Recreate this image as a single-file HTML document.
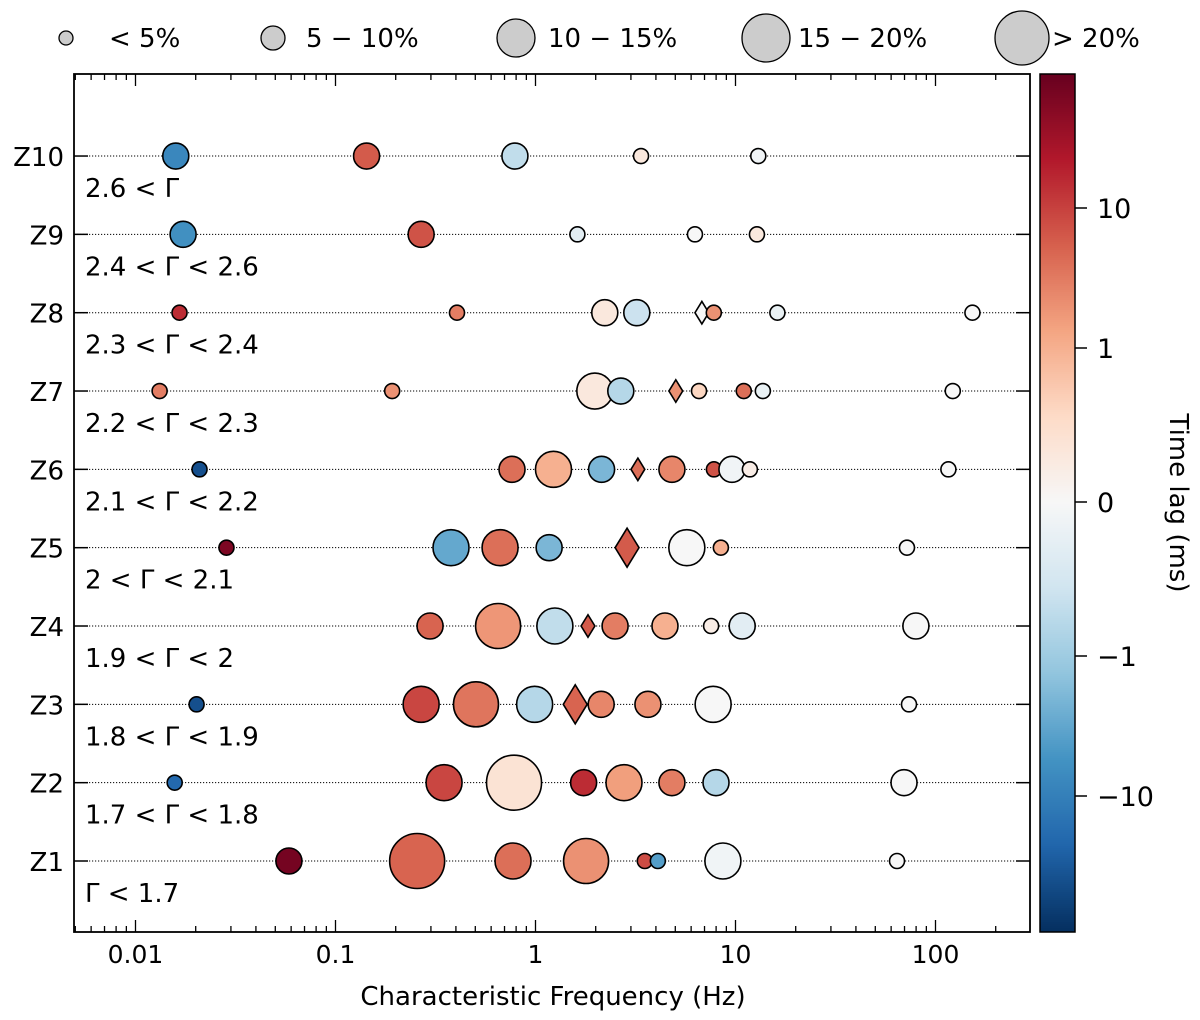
<!DOCTYPE html>
<html><head><meta charset="utf-8"><style>
html,body{margin:0;padding:0;background:#fff}
svg{display:block}
text{font-family:"DejaVu Sans","Liberation Sans",sans-serif;fill:#000}
</style></head><body>
<svg id="chart" width="1200" height="1020" viewBox="0 0 1200 1020" xmlns="http://www.w3.org/2000/svg">
<g id="legend"></g>
<g id="grid"></g>
<g id="marks"></g>
<g id="axes"></g>
<g id="cbar"></g>
</svg>
<script>
// ---- data ----
const rowLabels = ["Z1","Z2","Z3","Z4","Z5","Z6","Z7","Z8","Z9","Z10"];
const gammaLabels = ["Γ < 1.7","1.7 < Γ < 1.8","1.8 < Γ < 1.9","1.9 < Γ < 2","2 < Γ < 2.1","2.1 < Γ < 2.2","2.2 < Γ < 2.3","2.3 < Γ < 2.4","2.4 < Γ < 2.6","2.6 < Γ"];
// per row: frequencies (Hz), lags (ms), size class (0..4), marker ("c" circle, "d" diamond)
const freqs = [
 [0.0585,0.256,0.772,1.79,3.52,4.09,8.65,64.2],
 [0.0157,0.349,0.781,1.74,2.77,4.81,7.99,69.6],
 [0.0202,0.268,0.504,0.99,1.58,2.13,3.65,7.73,73.7],
 [0.297,0.650,1.25,1.83,2.50,4.44,7.55,10.8,79.8],
 [0.0285,0.378,0.665,1.17,2.87,5.71,8.45,72.0],
 [0.0209,0.763,1.23,2.14,3.25,4.81,7.80,9.60,11.8,116],
 [0.0132,0.192,1.98,2.67,5.03,6.57,11.0,13.7,122],
 [0.0166,0.405,2.22,3.21,6.79,7.79,16.2,153],
 [0.0173,0.268,1.62,6.27,12.8],
 [0.0159,0.143,0.789,3.37,13.0]
];
const lags = [
 [70,5,4,2,8,-4,-0.1,0],
 [-20,9,0.4,15,1.5,3,-0.8,0],
 [-40,9,3.5,-0.8,5,2.5,2,0,0],
 [5,1.8,-0.7,6,3,1,0.2,-0.3,0],
 [60,-3,4,-2,6,0,1,0],
 [-40,4,1,-2,4,2.5,7,-0.1,0.2,0],
 [3,2,0.3,-0.8,2,0.6,4,-0.2,0],
 [15,3,0.3,-0.6,0,2,-0.2,0],
 [-6,7,-0.3,0,0.3],
 [-8,6,-0.7,0.3,-0.1]
];
const sizes = [
 [1,4,2,3,0,0,2,0],
 [0,2,4,1,2,1,1,1],
 [0,2,3,2,1,1,1,2,0],
 [1,3,2,0,1,1,0,1,1],
 [0,2,2,1,1,2,0,0],
 [0,1,2,1,0,1,0,1,0,0],
 [0,0,2,1,0,0,0,0,0],
 [0,0,1,1,0,0,0,0],
 [1,1,0,0,0],
 [1,1,1,0,0]
];
const markers = [
 ["c","c","c","c","c","c","c","c"],
 ["c","c","c","c","c","c","c","c"],
 ["c","c","c","c","d","c","c","c","c"],
 ["c","c","c","d","c","c","c","c","c"],
 ["c","c","c","c","d","c","c","c"],
 ["c","c","c","c","d","c","c","c","c","c"],
 ["c","c","c","c","d","c","c","c","c"],
 ["c","c","c","c","d","c","c","c"],
 ["c","c","c","c","c"],
 ["c","c","c","c","c"]
];
const xTicks = [0.01,0.1,1,10,100];
const xTickLabels = ["0.01","0.1","1","10","100"];
const cbTicks = [10,1,0,-1,-10];
const cbTickLabels = ["10","1","0","−1","−10"];
const legendLabels = ["< 5%","5 − 10%","10 − 15%","15 − 20%","> 20%"];

// ---- geometry ----
const PL=74,PR=1030,PT=74,PB=932;
const NS="http://www.w3.org/2000/svg";
const xs = f => 135.5 + (Math.log10(f)+2)*200;
const ys = i => 861 - i*78.33;
const R = [7.5,13,18,22.5,27.5];
const LR = [7,12,19,24,27];
const CB = {x:1040,w:35,top:74,bot:932,zero:502};
function cbPos(v){const a=Math.abs(v);const p=a<=1?a*154:154+Math.log10(a)*140;return Math.sign(v)*p;}
const stops=["#053061","#2166ac","#4393c3","#92c5de","#d1e5f0","#f7f7f7","#fddbc7","#f4a582","#d6604d","#b2182b","#67001f"];
function hex(h){return [1,3,5].map(i=>parseInt(h.substr(i,2),16));}
function cmap(t){t=Math.max(0,Math.min(1,t));const s=t*(stops.length-1);const i=Math.min(Math.floor(s),stops.length-2);const f=s-i;const a=hex(stops[i]),b=hex(stops[i+1]);return "rgb("+a.map((v,k)=>Math.round(v+(b[k]-v)*f)).join(",")+")";}
const HALF = 428;
const color = v => cmap((cbPos(v)/HALF+1)/2);
function el(tag,attrs,parent){const e=document.createElementNS(NS,tag);for(const k in attrs)e.setAttribute(k,attrs[k]);parent.appendChild(e);return e;}

const legend=document.getElementById('legend');
const grid=document.getElementById('grid');
const marks=document.getElementById('marks');
const axes=document.getElementById('axes');
const cbar=document.getElementById('cbar');

// legend
const legCx=[66,273,516,766,1022], legTx=[109,306,548,798,1052];
legendLabels.forEach((l,i)=>{
  const c=el('circle',{cx:legCx[i],cy:38,r:LR[i],fill:'#cccccc',stroke:'#000','stroke-width':1.3},legend);
  
  
  const t=el('text',{x:legTx[i],y:47,'font-size':26},legend);t.textContent=l;
  
  
});

// row guides and labels
rowLabels.forEach((lab,i)=>{
  const y=ys(i);
  const ln=el('line',{x1:PL,x2:PR,y1:y,y2:y,stroke:'#000','stroke-width':1,'stroke-dasharray':'1.2,1.8'},grid);
  
  
  const t=el('text',{x:64,y:y+10,'font-size':26,'text-anchor':'end'},axes);t.textContent=lab;
  
  
  el('line',{x1:PL,x2:PL+14,y1:y,y2:y,stroke:'#000','stroke-width':1.5},axes);
  el('line',{x1:PR-14,x2:PR,y1:y,y2:y,stroke:'#000','stroke-width':1.5},axes);
  const g=el('text',{x:85,y:y+41,'font-size':26},axes);g.textContent=gammaLabels[i];
  
  
});

// points
freqs.forEach((row,i)=>{
  const y=ys(i);
  row.forEach((f,j)=>{
    const x=xs(f), r=R[sizes[i][j]], fill=color(lags[i][j]);
    let m;
    if(markers[i][j]==='d'){
      const h=r*1.5,w=r*0.92;
      m=el('polygon',{points:`${x},${y-h} ${x+w},${y} ${x},${y+h} ${x-w},${y}`,fill:fill,stroke:'#000','stroke-width':1.6},marks);
      
    } else {
      m=el('circle',{cx:x,cy:y,r:r,fill:fill,stroke:'#000','stroke-width':1.6},marks);
      
    }
    
  });
});

// axes frame
const fr=el('rect',{x:PL,y:PT,width:PR-PL,height:PB-PT,fill:'none',stroke:'#000','stroke-width':1.8},axes);


// x ticks
for(let d=-3;d<=2;d++){
  for(let k=1;k<10;k++){
    const f=k*Math.pow(10,d);const x=xs(f);
    if(x<PL+1||x>PR-1)continue;
    const L=k===1?12:6;
    el('line',{x1:x,x2:x,y1:PB,y2:PB-L,stroke:'#000','stroke-width':1.3},axes);
    el('line',{x1:x,x2:x,y1:PT,y2:PT+L,stroke:'#000','stroke-width':1.3},axes);
  }
}
xTicks.forEach((f,i)=>{
  const t=el('text',{x:xs(f),y:963,'font-size':25,'text-anchor':'middle'},axes);t.textContent=xTickLabels[i];
  
  
});
const xt=el('text',{x:553,y:1005,'font-size':26,'text-anchor':'middle'},axes);xt.textContent="Characteristic Frequency (Hz)";



// colorbar
for(let p=CB.top;p<CB.bot;p+=2){
  const pos=CB.zero-(p+1);
  el('rect',{x:CB.x,y:p,width:CB.w,height:2.2,fill:cmap((pos/HALF+1)/2)},cbar);
}
const cbf=el('rect',{x:CB.x,y:CB.top,width:CB.w,height:CB.bot-CB.top,fill:'none',stroke:'#000','stroke-width':1.5},cbar);


cbTicks.forEach((v,i)=>{
  const y=CB.zero-cbPos(v);
  el('line',{x1:CB.x+CB.w,x2:CB.x+CB.w+12,y1:y,y2:y,stroke:'#000','stroke-width':1.5},cbar);
  const t=el('text',{x:1097,y:y+10,'font-size':27},cbar);t.textContent=cbTickLabels[i];
  
  
});
const ct=el('text',{x:1170,y:503,'font-size':26,'text-anchor':'middle',transform:'rotate(90 1170 503)'},cbar);ct.textContent="Time lag (ms)";


</script>
</body></html>
